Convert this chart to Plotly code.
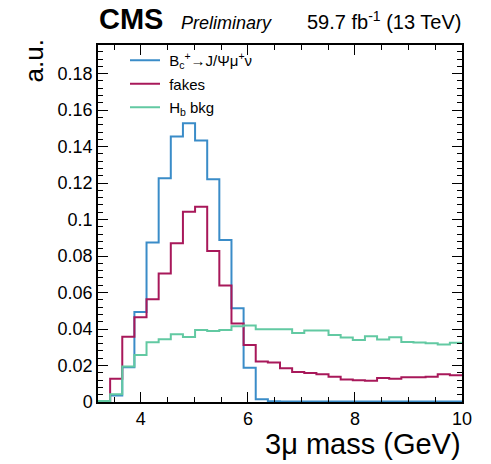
import numpy as np
import plotly.graph_objects as go

# ---- data ----
x_min, x_max, n_bins = 3.2, 10.0, 30
bc_signal = [0.0005, 0.0035, 0.0190, 0.0493, 0.0875, 0.1226, 0.1455, 0.1528, 0.1433, 0.1221,
             0.0888, 0.0514, 0.0188, 0.0015, 0.0004, 0.0003, 0.0003, 0.0003, 0.0003, 0.0003,
             0.0003, 0.0003, 0.0003, 0.0003, 0.0003, 0.0003, 0.0003, 0.0003, 0.0003, 0.0003]
fakes = [0.0005, 0.0128, 0.0358, 0.0464, 0.0563, 0.0705, 0.0870, 0.1043, 0.1071, 0.0828,
         0.0638, 0.0431, 0.0312, 0.0222, 0.0217, 0.0185, 0.0164, 0.0159, 0.0152, 0.0139,
         0.0124, 0.0119, 0.0117, 0.0132, 0.0128, 0.0135, 0.0135, 0.0139, 0.0152, 0.0146]
hb_bkg = [0.0005, 0.0043, 0.0194, 0.0258, 0.0327, 0.0344, 0.0371, 0.0356, 0.0395, 0.0389,
          0.0395, 0.0415, 0.0420, 0.0399, 0.0399, 0.0399, 0.0378, 0.0392, 0.0392, 0.0367,
          0.0353, 0.0340, 0.0361, 0.0342, 0.0355, 0.0329, 0.0326, 0.0322, 0.0315, 0.0325]
names = ["\u00a0B<sub>c</sub><sup>+</sup>\u2192J/\u03a8\u03bc<sup>+</sup>\u03bd", "\u00a0fakes", "\u00a0H<sub>b</sub> bkg"]
colors = ["#3a8cc8", "#a8185a", "#62c9a2"]
y_tickvals = [0, 0.02, 0.04, 0.06, 0.08, 0.1, 0.12, 0.14, 0.16, 0.18]
y_ticktext = ["0", "0.02", "0.04", "0.06", "0.08", "0.1", "0.12", "0.14", "0.16", "0.18"]
x_tickvals = [4, 6, 8, 10]
x_ticktext = ["4", "6", "8", "10"]

edges = np.linspace(x_min, x_max, n_bins + 1)

W, H = 491, 464
L, R, T, B = 98, 29, 45, 62
pw, ph = W - L - R, H - T - B


def px(xp):
    return (xp - L) / pw


def py(yp):
    return (H - B - yp) / ph


FONT = "Liberation Sans, Arial, Helvetica, sans-serif"

fig = go.Figure()
for i, (vals, name, col) in enumerate(zip([bc_signal, fakes, hb_bkg], names, colors)):
    xs = list(edges[:-1]) + [edges[-1]]
    ys = list(vals) + [vals[-1]]
    fig.add_trace(go.Scatter(x=xs, y=ys, mode="lines", line=dict(shape="hv", color=col, width=2),
                             name=name, legendgroup=f"g{i}"))

axis_common = dict(showline=True, linecolor="black", linewidth=1.5, mirror="allticks",
                   ticks="inside", tickwidth=1.2, tickcolor="black", ticklen=10,
                   showgrid=False, zeroline=False,
                   tickfont=dict(family=FONT, size=18, color="black"))

fig.update_layout(
    width=W, height=H,
    margin=dict(l=L, r=R, t=T, b=B),
    paper_bgcolor="white", plot_bgcolor="white",
    xaxis=dict(range=[x_min, x_max], tickmode="array", tickvals=x_tickvals, ticktext=x_ticktext,
               minor=dict(ticks="inside", ticklen=5, dtick=0.5, tick0=0, tickcolor="black", tickwidth=1.2),
               **axis_common),
    yaxis=dict(range=[0, 0.1957], tickmode="array", tickvals=y_tickvals, ticktext=y_ticktext,
               minor=dict(ticks="inside", ticklen=5, dtick=0.004, tick0=0, tickcolor="black", tickwidth=1.2),
               **axis_common),
    legend=dict(x=px(125), y=py(44), xanchor="left", yanchor="top", bgcolor="rgba(0,0,0,0)",
                font=dict(family=FONT, size=15, color="black"), tracegroupgap=1),
    showlegend=True,
)

ann = [
    dict(text="<b>CMS</b>", x=px(97), y=py(37), xanchor="left", yanchor="bottom",
         font=dict(family=FONT, size=29, color="black")),
    dict(text="<i>Preliminary</i>", x=px(179), y=py(35), xanchor="left", yanchor="bottom",
         font=dict(family=FONT, size=18, color="black")),
    dict(text="59.7 fb<sup>-1</sup> (13 TeV)", x=px(463), y=py(35), xanchor="right", yanchor="bottom",
         font=dict(family=FONT, size=20, color="black")),
    dict(text="3\u03bc mass (GeV)", x=px(463), y=py(462), xanchor="right", yanchor="bottom",
         font=dict(family=FONT, size=29, color="black")),
    dict(text="a.u.", x=px(33), y=py(38), xanchor="center", yanchor="top", textangle=-90,
         font=dict(family=FONT, size=26, color="black")),
]
for a in ann:
    a.update(xref="paper", yref="paper", showarrow=False)
fig.update_layout(annotations=ann)

fig.write_html("out.html")
